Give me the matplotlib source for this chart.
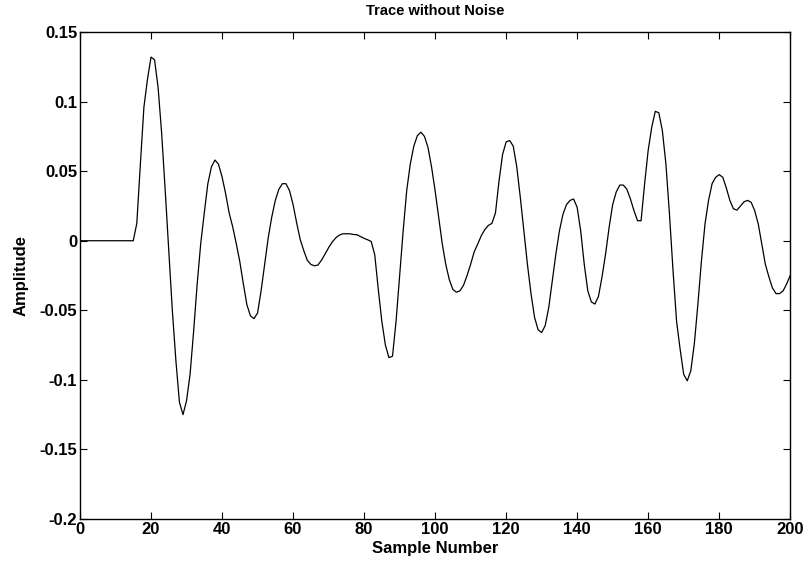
import numpy as np
import matplotlib.pyplot as plt

plt.rcParams['font.family'] = ['Liberation Sans', 'DejaVu Sans']
plt.rcParams['font.weight'] = 'bold'

# sample numbers and trace amplitudes
samples = np.arange(0, 201)
amplitude = [
    0, 0, 0, 0, 0, 0, 0, 0, 0, 0, 0, 0, 0, 0, 0, 0,
    0.0125, 0.055, 0.096, 0.116, 0.132, 0.130, 0.110, 0.077, 0.036, -0.007,
    -0.050, -0.086, -0.116, -0.125, -0.115, -0.096, -0.065, -0.031, -0.002, 0.020,
    0.041, 0.053, 0.058, 0.055, 0.046, 0.034, 0.020, 0.010, -0.002, -0.015,
    -0.031, -0.046, -0.054, -0.056, -0.052, -0.036, -0.017, 0.002, 0.017, 0.029,
    0.037, 0.041, 0.041, 0.036, 0.026, 0.013, 0.001, -0.007, -0.014, -0.017,
    -0.018, -0.0175, -0.014, -0.0096, -0.005, -0.001, 0.002, 0.004, 0.005, 0.005,
    0.005, 0.0045, 0.0043, 0.003, 0.0017, 0.0007, -0.0005, -0.010, -0.035, -0.058,
    -0.075, -0.084, -0.083, -0.058, -0.026, 0.007, 0.036, 0.055, 0.068, 0.0755,
    0.078, 0.075, 0.067, 0.053, 0.036, 0.017, -0.002, -0.017, -0.028, -0.035,
    -0.037, -0.036, -0.032, -0.025, -0.017, -0.008, -0.0024, 0.0036, 0.008, 0.011,
    0.0125, 0.020, 0.043, 0.062, 0.071, 0.072, 0.068, 0.053, 0.031, 0.007,
    -0.017, -0.038, -0.055, -0.064, -0.066, -0.061, -0.048, -0.029, -0.0096, 0.007,
    0.019, 0.026, 0.029, 0.030, 0.024, 0.007, -0.017, -0.036, -0.044, -0.0455,
    -0.040, -0.026, -0.0096, 0.0096, 0.026, 0.035, 0.040, 0.040, 0.037, 0.030,
    0.0216, 0.0144, 0.0144, 0.041, 0.065, 0.0815, 0.093, 0.092, 0.079, 0.055,
    0.019, -0.0216, -0.058, -0.078, -0.096, -0.1007, -0.0935, -0.074, -0.0456, -0.0144,
    0.012, 0.029, 0.041, 0.0456, 0.0475, 0.0456, 0.038, 0.029, 0.023, 0.022,
    0.025, 0.028, 0.029, 0.0276, 0.0216, 0.012, -0.0024, -0.017, -0.026, -0.034,
    -0.038, -0.038, -0.036, -0.031, -0.025,
]
xticks = np.arange(0, 201, 20)
yticks = [-0.2, -0.15, -0.1, -0.05, 0, 0.05, 0.1, 0.15]
ytick_labels = ['-0.2', '-0.15', '-0.1', '-0.05', '0', '0.05', '0.1', '0.15']

fig = plt.figure(figsize=(8.08, 5.62), dpi=100)
ax = fig.add_axes([0.099, 0.0765, 0.879, 0.8665])
ax.plot(samples, amplitude, color='black', lw=0.9)

ax.set_xlim(0, 200)
ax.set_ylim(-0.2, 0.15)
ax.set_xticks(xticks)
ax.set_yticks(yticks)
ax.set_yticklabels(ytick_labels)
ax.tick_params(direction='in', top=True, right=True, length=5, width=0.8,
               labelsize=12, pad=2)
for s in ax.spines.values():
    s.set_linewidth(1)

ax.set_title('Trace without Noise', fontsize=10.5, fontweight='bold', pad=12)
ax.set_xlabel('Sample Number', fontsize=12, fontweight='bold', labelpad=3)
ax.set_ylabel('Amplitude', fontsize=12, fontweight='bold', labelpad=8)

fig.savefig('out.png', dpi=100)
